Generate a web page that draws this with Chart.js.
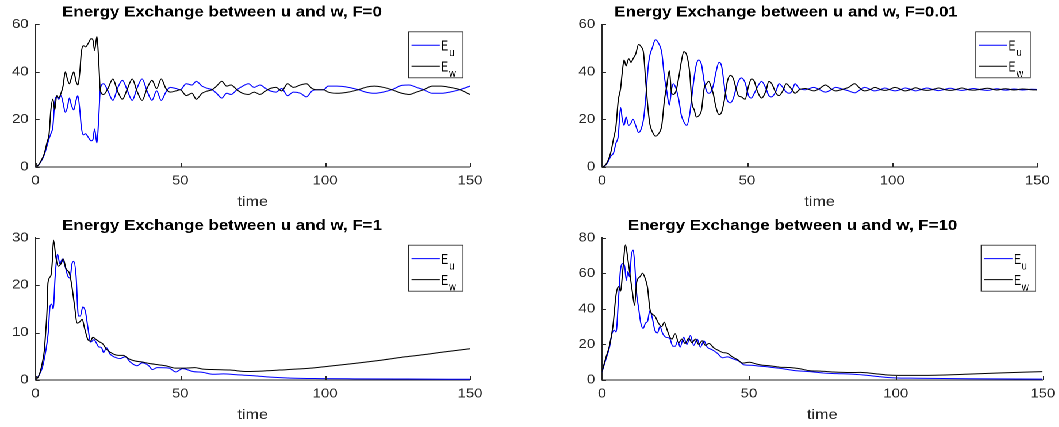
<!DOCTYPE html>
<html>
<head>
<meta charset="utf-8">
<title>Energy Exchange between u and w</title>
<script src="https://cdn.jsdelivr.net/npm/chart.js@4.4.1/dist/chart.umd.min.js"></script>
<style>
  html, body { margin: 0; padding: 0; background: #fff; overflow: hidden; }
  #fig { position: absolute; left: 0; top: 0; height: 427px; transform-origin: 0 0; }
  .panel { position: absolute; }
  .panel canvas { display: block; }
</style>
</head>
<body>
<div id="fig"></div>
<script>
// values
var titles = [
    'Energy Exchange between u and w, F=0',
    'Energy Exchange between u and w, F=0.01',
    'Energy Exchange between u and w, F=1',
    'Energy Exchange between u and w, F=10'
];
var xLabel = 'time';
var xTickValues = [0, 50, 100, 150];
var yTicksF0 = [0, 20, 40, 60];
var yTicksF001 = [0, 20, 40, 60];
var yTicksF1 = [0, 10, 20, 30];
var yTicksF10 = [0, 20, 40, 60, 80];
var legendNames = ['E', 'E'];
var legendSubs = ['u', 'w'];

// F=0
var timeF0 = [0,1,2,3,4,4.7,5.3,6,6.65,7.3, 8,8.8,9.5,10.3,11,11.7,12.4,13.2,14,14.6,
    15.3,15.8,16.5,17.3,18.2,19.2,19.8,20.4,21.2,21.8, 22.4,23.5,25,26.7,28.3,30,31.6,33.4,35,36.8,
    38.5,40.2,41.8,43.4,45,46.5,48.5,50,52,54, 55.5,57.5,59.5,61,62.5,64.3,66,67.5,69.5,71.5,
    73.5,75.5,77.5,79.5,81,83,85,87,89,91.5, 93.5,95.5,97,99.5,101,104,108,111.5,114,117,
    120,123,126.5,129,131.5,134,137,140,143,146.5, 150];
var euF0 = [0,0.8,2.5,5,9,12,14,17,27.5,29.5, 28.5,30,27,23,25,29,26,24,28,30,
    24,17,13.5,14,12.5,11,11.5,16,10,20, 33,35,32,28,33,36.5,32.5,28,33,37,
    32,28,32,28,31.5,33.5,33,32.5,35,34.5, 36,34,33,32.5,31,29,31,30.5,32.5,34,
    35,33.5,34.5,33,32,31.5,33,30,31.5,31, 29.5,32,32.5,32.5,34,34,33.5,32.5,31.5,31,
    31.5,32.5,34.3,34.5,33.5,32.5,31,31,31.5,32.5, 34];
var ewF0 = [0,0.8,2.8,5.5,10.5,14,24,28.5,24,30, 29,31,34,40,37,35,37.5,40,36,34.5,
    40,48,51,50.5,52,54,53.5,49,55,45, 32,30.5,33,37,32,28.5,32.5,37,32,28,
    33,36.5,33,37,33,31.5,32,32.5,30,31, 28.5,31,32,32.5,34,36,34,34.5,32.5,31,
    30.5,31.5,30.5,32,33,33.5,32,35,33.5,34.5, 35,33,32.5,32.5,31.5,31,31.5,32.5,33.5,34,
    33.5,32.5,31,30.5,31.5,32.5,34,34,33.5,32.5, 30.5];

// F=0.01
var timeF001 = [0,1,2,3,4,4.8,5.6,6.4,7,7.6, 8.3,9.2,10,10.7,11.6,12.6,13.5,14.3,15,15.9,
    16.5,17.3,18.4,19.5,20.6,21.5,22.3,23.2,24,24.6, 25.5,26.5,27.3,28.2,29.2,30.2,31,31.8,32.5,33.3,
    34.3,35.2,36,36.8,37.5,38.3,39.3,40.3,41.2,42.3, 43.2,44.3,45.3,46.2,47,48,49.3,50.5,51.5,52.5,
    53.5,55,56.5,57.5,58.5,60,61,62.3,63.5,64.5, 65.5,66.5,68,70,73,75,77,79,80.5,83,
    85,87,89,90.5,92.5,94,96,97.5,99,101, 103,104.5,106.5,108,110,112,114,116,118,120,
    122,124,126,128,130,133,136,139,142,145, 148,150];
var euF001 = [0,0.5,2,4.5,6,10,13,25,20,17.5, 21,17.5,18.5,20,17.5,14.5,16,20,28,42,
    47,50,53.5,52,48,38,32,26,33,35, 33,28,22,19,17.5,22,30,38,43,45,
    43,36,32,31,31.5,34,40,44,42.5,33, 28,27,29,33,36,37.5,35.5,30,29,31,
    33.5,36,33,30,29.5,32,35,33.5,31.5,31, 32,35,33,32.5,33.5,32.5,31.5,32.5,33.5,32.7,
    32,31.2,32.5,33.5,32.6,32,32.6,33.2,32.6,32, 32.6,33.2,32.6,32,32.6,33.2,32.6,32.1,32.6,33.1,
    32.6,32.2,32.6,33,32.6,32.2,32.9,32.3,32.8,32.4, 32.7,32.6];
var ewF001 = [0,0.6,2.5,6,12,17,28,33,40,45, 42.5,45.5,44,45.5,47.5,51.5,50.5,48,37,24,
    18,15,13,14,17.5,28,34,40.5,31,30.5, 32,38,44,48.5,47,40,27,24,21,21.5,
    24,33,35,36,34,31,25,22,23,29, 36,38.5,37,33,30,29.5,28.5,34,37,36,
    32,29,32,36,35,31,30,32,35,34, 32.5,31,32.5,33,32,33,34.5,32.8,32,32.7,
    33.5,35,33,32,32.6,33.5,32.6,32.2,32.6,33.5, 32.6,32,32.6,33.3,32.6,32.2,32.6,33.2,32.6,32.2,
    32.6,33.2,32.6,32.3,32.6,33.1,32.4,32.9,32.4,32.8, 32.5,32.4];

// F=1
var timeUF1 = [0,1,2.3,3.5,4.4,5,5.6,6.1,6.8,7.6, 8.4,9.3,10.2,11.1,11.9,12.6,13.2,14,14.8,15.5,
    16.3,17.2,18.1,19,20.2,21,21.8,22.8,23.5,24.5, 25.7,27.4,29.2,30.9,32.7,35,36.8,39.1,40.3,42,
    46.1,48.4,50.8,54.3,57.8,61.3,64.8,69.5,75.3,81.1, 88.1,98.6,110,128,150];
var euF1 = [0,0.8,2.5,6,10,15.5,16,15,22,26.5, 24.5,25.5,24,22,21.5,24.5,25,22,13.5,13.5,
    15.4,14.5,11,8,8.5,7.8,7,6.8,5.8,6.8, 5.5,4.8,4.5,4.9,3.8,3,3.6,3,2.2,2.6,
    2.5,1.7,2.4,1.8,1.6,1.2,1.3,1.1,0.9,0.6, 0.4,0.3,0.25,0.2,0.15];
var timeWF1 = [0,1,1.75,2.3,3,3.5,4,4.3,5.3,5.8, 6.2,7,7.8,8.8,9.6,10.5,11.7,12.5,13.4,14.4,
    15.2,16.1,16.9,18.1,19,19.8,21,22.2,23.1,24.5, 26.8,28.6,30.3,32.1,34.4,36.8,39.1,42.6,44.9,48.4,
    52,54.9,57.8,62.4,67.1,73,78.8,87,95.1,99.8, 110.3,119.6,127.8,134.8,139.5,150];
var ewF1 = [0,0.7,2,3.5,6,10,15,20.5,22,25, 29.5,26,24,24.5,25.5,23.5,22.5,20,16,12,
    12.2,12.8,11,8.5,8.2,9,8.5,8,7.7,6.5, 5.5,5.2,5.2,4.5,4,3.8,3.5,3.2,3,2.5,
    2.5,2.6,2.3,2.2,2.1,1.8,1.9,2.2,2.5,2.8, 3.5,4.2,4.9,5.4,5.8,6.6];

// F=10
var timeUF10 = [0,1.4,2.5,3.4,4.2,4.8,5.6,6.3,7.1,7.7, 8.3,8.8,9.4,10,10.6,11.1,11.7,12.5,13.2,14,
    14.8,15.5,16.3,17.1,18,18.9,19.7,20.7,21.8,23, 24.1,24.9,25.8,26.6,27.8,28.9,30.1,31.2,32.4,33.5,
    34.7,35.8,37.5,39.3,41,42.7,44.4,46.7,48.4,50.7, 53.6,55.9,58.2,61.6,66.2,70.8,75.4,80,85.7,90.3,
    94.9,99.5,107.5,124.8,150];
var euF10 = [4.5,12,18,26,28,27,45,62,65.5,64, 56,61,58,70,73,66,50,40,32,29,
    32,33,39,35,28,26.5,30,26,24,23.5, 19,19,22,18.5,24,20,25,19.5,23,18.5,
    22,18.5,17,15,12.5,13,12,10.5,8.5,8.3, 7.8,7.5,7,6.3,5.2,4.7,3.9,3.6,3.2,2.6,
    1.8,1.2,1,0.7,0.5];
var timeWF10 = [0,1.4,2.5,3.7,4.8,5.6,6.3,7.1,8,8.8, 9.8,10.3,11.1,11.8,12.9,13.8,14.6,15.5,16.3,17.1,
    18,19.2,20.3,21.2,22,23,23.8,24.9,26.1,27.2, 28.3,29.5,30.6,31.8,32.9,34.1,35.2,36.4,38.1,39.8,
    41,42.7,44.4,46.1,47.9,50.2,52.5,54.7,57,60.5, 63.9,67.4,70.8,74.3,78.8,84.6,88,92.6,97.2,100.7,
    113.3,124.8,136.2,150];
var ewF10 = [4.7,13,19,30,48,52.5,50,62,76,68, 56,50,42,55,58,60,57.5,52,40,37,
    36,32,30,32.5,29,24.5,23,26,21,23, 20.5,23.5,21,23,20,22,19.5,20.5,18,16.5,
    15.5,15,13,11.5,9.5,10,9,8.3,8,7.2, 7,6.3,5.2,5,4.5,4.2,4.3,3.6,2.8,2.6,
    2.7,3.3,4,4.7];

// layout of the figure
var SX = 1.15;          // the figure's text is stretched sideways
var Y_W = 30;           // width kept for the y tick labels
var axisColor = '#262626';
var fontFamily = '"Liberation Sans", Arial, Helvetica, sans-serif';
Chart.defaults.font.family = fontFamily;

var panels = [
    { title: titles[0], box: [0, 0, 460, 213], area: [35.5, 470, 24.3, 167], titleX: 222, titleY: 16.7,
      yTicks: yTicksF0, tu: timeF0, eu: euF0, tw: timeF0, ew: ewF0, timePad: 2.6 },
    { title: titles[1], box: [460, 0, 461, 213], area: [602, 1037.3, 24.3, 167], titleX: 786, titleY: 16.7,
      yTicks: yTicksF001, tu: timeF001, eu: euF001, tw: timeF001, ew: ewF001, timePad: 2.6 },
    { title: titles[2], box: [0, 213, 460, 214], area: [35.5, 470, 237.7, 380], titleX: 222, titleY: 230,
      yTicks: yTicksF1, tu: timeUF1, eu: euF1, tw: timeWF1, ew: ewF1, timePad: 3.6 },
    { title: titles[3], box: [460, 213, 461, 214], area: [602, 1042.7, 237.7, 380], titleX: 792.6, titleY: 230,
      yTicks: yTicksF10, tu: timeUF10, eu: euF10, tw: timeWF10, ew: ewF10, timePad: 3.6 }
];

function toPoints(xs, ys) {
    var out = [];
    for (var i = 0; i < xs.length; i++) {
        out.push({ x: xs[i], y: ys[i] });
    }
    return out;
}

// title, inward ticks and the boxed legend
var decor = {
    id: 'decor',
    afterDraw: function (chart, args, opts) {
        var ctx = chart.ctx;
        var a = chart.chartArea;
        var xs = chart.scales.x, ys = chart.scales.y;
        ctx.save();

        ctx.strokeStyle = axisColor;
        ctx.lineWidth = 1;
        ctx.beginPath();
        xs.ticks.forEach(function (t) {
            var px = Math.round(xs.getPixelForValue(t.value)) + 0.5;
            ctx.moveTo(px, a.bottom);
            ctx.lineTo(px, a.bottom - 4);
        });
        ys.ticks.forEach(function (t) {
            var py = Math.round(ys.getPixelForValue(t.value)) + 0.5;
            ctx.moveTo(a.left, py);
            ctx.lineTo(a.left + 3.5, py);
        });
        ctx.stroke();

        ctx.fillStyle = '#000';
        ctx.font = 'bold 14.7px ' + fontFamily;
        ctx.textAlign = 'center';
        ctx.textBaseline = 'alphabetic';
        ctx.fillText(opts.title, opts.titleX, opts.titleY);

        var w = 54.5 / SX, h = 46;
        var x0 = a.right - 7 / SX - w, y0 = a.top + 7.5;
        ctx.fillStyle = '#fff';
        ctx.fillRect(x0, y0, w, h);
        ctx.strokeStyle = axisColor;
        ctx.lineWidth = 0.8;
        ctx.strokeRect(x0, y0, w, h);

        var rows = [13.4, 34.4];
        chart.data.datasets.forEach(function (ds, i) {
            var ly = y0 + rows[i];
            ctx.strokeStyle = ds.borderColor;
            ctx.lineWidth = 1;
            ctx.beginPath();
            ctx.moveTo(x0 + 2.6, ly);
            ctx.lineTo(x0 + 27.2, ly);
            ctx.stroke();

            ctx.save();
            ctx.translate(x0 + 28.5, ly + 5.2);
            ctx.fillStyle = '#000';
            ctx.textAlign = 'left';
            ctx.save();
            ctx.scale(0.6, 1);
            ctx.font = '15px ' + fontFamily;
            ctx.fillText(legendNames[i], 0, 0);
            var ew = ctx.measureText(legendNames[i]).width * 0.6;
            ctx.restore();
            ctx.translate(ew + 0.8, 5.5);
            ctx.scale(0.75, 1);
            ctx.font = '11px ' + fontFamily;
            ctx.fillText(legendSubs[i], 0, 0);
            ctx.restore();
        });
        ctx.restore();
    }
};

var fig = document.getElementById('fig');
fig.style.width = (1059 / SX) + 'px';
fig.style.transform = 'scaleX(' + SX + ')';

panels.forEach(function (p) {
    var b = p.box;
    var div = document.createElement('div');
    div.className = 'panel';
    div.style.left = b[0] + 'px';
    div.style.top = b[1] + 'px';
    div.style.width = b[2] + 'px';
    div.style.height = b[3] + 'px';
    var canvas = document.createElement('canvas');
    div.appendChild(canvas);
    fig.appendChild(div);

    var aL = p.area[0] / SX - b[0];
    var aR = p.area[1] / SX - b[0];
    var aT = p.area[2] - b[1];
    var aB = p.area[3] - b[1];

    new Chart(canvas, {
        type: 'line',
        data: {
            datasets: [
                {
                    label: 'E_u',
                    data: toPoints(p.tu, p.eu),
                    borderColor: '#0000ff',
                    borderWidth: 1,
                    pointRadius: 0,
                    cubicInterpolationMode: 'monotone',
                    fill: false,
                    order: 1
                },
                {
                    label: 'E_w',
                    data: toPoints(p.tw, p.ew),
                    borderColor: '#000000',
                    borderWidth: 1,
                    pointRadius: 0,
                    cubicInterpolationMode: 'monotone',
                    fill: false,
                    order: 0
                }
            ]
        },
        options: {
            responsive: true,
            maintainAspectRatio: false,
            animation: false,
            devicePixelRatio: 2,
            events: [],
            layout: { padding: { left: aL - Y_W, top: aT, right: b[2] - aR, bottom: 0 } },
            scales: {
                x: {
                    type: 'linear',
                    min: 0,
                    max: 150,
                    grid: { display: false, drawTicks: false },
                    border: { display: true, color: axisColor, width: 1 },
                    ticks: { padding: 6, maxRotation: 0, autoSkip: false, color: axisColor, font: { size: 13 } },
                    title: { display: true, text: xLabel, color: axisColor, font: { size: 14 },
                             padding: { top: 0, bottom: p.timePad } },
                    afterBuildTicks: function (s) {
                        s.ticks = xTickValues.map(function (v) { return { value: v }; });
                    },
                    afterFit: function (s) {
                        s.height = b[3] - aB;
                        s.paddingLeft = s.paddingRight = s.paddingTop = s.paddingBottom = 0;
                    }
                },
                y: {
                    type: 'linear',
                    min: p.yTicks[0],
                    max: p.yTicks[p.yTicks.length - 1],
                    grid: { display: false, drawTicks: false },
                    border: { display: true, color: axisColor, width: 1 },
                    ticks: { padding: 6, color: axisColor, font: { size: 13 } },
                    afterBuildTicks: function (s) {
                        s.ticks = p.yTicks.map(function (v) { return { value: v }; });
                    },
                    afterFit: function (s) {
                        s.width = Y_W;
                        s.paddingLeft = s.paddingRight = s.paddingTop = s.paddingBottom = 0;
                    }
                }
            },
            plugins: {
                legend: { display: false },
                tooltip: { enabled: false },
                decor: { title: p.title, titleX: p.titleX / SX - b[0], titleY: p.titleY - b[1] }
            }
        },
        plugins: [decor]
    });
});
</script>
</body>
</html>
